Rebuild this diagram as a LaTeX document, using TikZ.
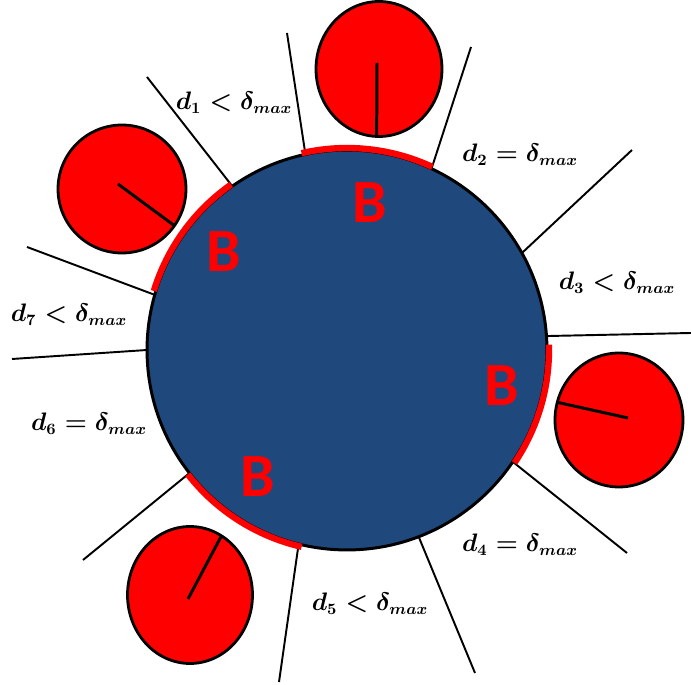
\documentclass[tikz,border=0pt]{standalone}
\usepackage{fontspec}
\newfontfamily\labelfont{Carlito}
\usepackage{tikz}
\usetikzlibrary{shapes.geometric, calc}
\usepackage{xcolor}
\definecolor{coreblue}{RGB}{31,73,125}

\begin{document}
\begin{tikzpicture}[
  x=0.02cm, y=0.02cm,
  core/.style={draw, circle, line width=1.7pt, fill=coreblue,
               minimum size=8cm, inner sep=0pt, outer sep=0pt},
  disc/.style={draw, ellipse, line width=1.6pt, fill=red,
               inner sep=0pt, outer sep=0pt},
  ray/.style={line width=1.1pt},
  spoke/.style={line width=1.7pt},
  barrier/.style={red, line width=3.6pt},
  dist/.style={font=\fontsize{13.5}{16}\selectfont\boldmath, inner sep=0pt},
  bmark/.style={font=\labelfont\bfseries\fontsize{35}{40}\selectfont,
                text=red, inner sep=0pt}
]
\useasboundingbox (0,0) rectangle (691,-685);

%% Central body
\node[core] (core) at (347,-350) {};

%% Outer ends of the rays
\coordinate (o1)  at (147,-77);
\coordinate (o2)  at (287,-33);
\coordinate (o3)  at (471,-47);
\coordinate (o4)  at (632,-150);
\coordinate (o5)  at (691,-333);
\coordinate (o6)  at (627,-553);
\coordinate (o7)  at (475,-673);
\coordinate (o8)  at (279,-682);
\coordinate (o9)  at (83,-560);
\coordinate (o10) at (12,-359);
\coordinate (o11) at (27,-247);

%% Rays
\draw[ray] (core.125.4) -- (o1);
\draw[ray] (core.102.7) -- (o2);
\draw[ray] (core.65)    -- (o3);
\draw[ray] (core.29.2)  -- (o4);
\draw[ray] (core.4)     -- (o5);
\draw[ray] (core.-34.4) -- (o6);
\draw[ray] (core.-69.7) -- (o7);
\draw[ray] (core.256.9) -- (o8);
\draw[ray] (core.218)   -- (o9);
\draw[ray] (core.180.9) -- (o10);
\draw[ray] (core.164.4) -- (o11);

%% Boundary segments
\draw[barrier] ($(core.center)+(65:202)$)  arc[start angle=65,  end angle=103, radius=202];
\draw[barrier] ($(core.center)+(125:202)$) arc[start angle=125, end angle=163, radius=202];
\draw[barrier] ($(core.center)+(-34:202)$) arc[start angle=-34, end angle=1.5, radius=202];
\draw[barrier] ($(core.center)+(218:202)$) arc[start angle=218, end angle=257, radius=202];

%% Small discs
\node[disc, minimum width=2.56cm, minimum height=2.56cm] (n1) at (122,-189) {};
\node[disc, minimum width=2.52cm, minimum height=2.7cm]  (n2) at (379,-69)  {};
\node[disc, minimum width=2.56cm, minimum height=2.68cm] (n3) at (619,-420) {};
\node[disc, minimum width=2.5cm,  minimum height=2.74cm] (n4) at (190,-595) {};

\draw[spoke] ($(n1.center)+(-4,5)$) -- (n1.-35);
\draw[spoke] ($(n2.center)+(-2,6)$) -- (n2.-92);
\draw[spoke] ($(n3.center)+(9,2)$)  -- (n3.164);
\draw[spoke] ($(n4.center)+(-2,-4)$) -- (n4.62);

%% Labels
\node[dist] (d1) at (234,-103) {$d_1 < \delta_{max}$};
\node[dist] (d2) at (520,-155) {$d_2 = \delta_{max}$};
\node[dist] (d3) at (617,-283) {$d_3 < \delta_{max}$};
\node[dist] (d4) at (520,-545) {$d_4 = \delta_{max}$};
\node[dist] (d5) at (370,-604) {$d_5 < \delta_{max}$};
\node[dist] (d6) at (89,-424)  {$d_6 = \delta_{max}$};
\node[dist] (d7) at (69,-315)  {$d_7 < \delta_{max}$};

\node[bmark] (b1) at (370,-203) {B};
\node[bmark] (b2) at (224,-252) {B};
\node[bmark] (b3) at (502,-386) {B};
\node[bmark] (b4) at (258,-477) {B};

\end{tikzpicture}
\end{document}
